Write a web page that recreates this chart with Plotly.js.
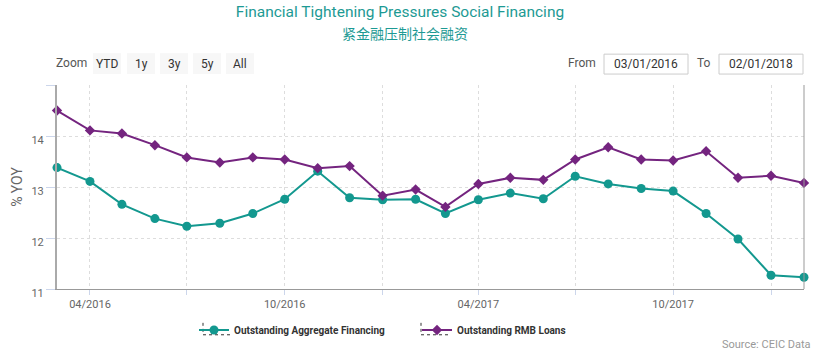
<!DOCTYPE html>
<html>
<head>
<meta charset="utf-8">
<script src="https://cdn.plot.ly/plotly-3.0.1.min.js"></script>
<style>
html,body{margin:0;padding:0;background:#fff;}
#chart{width:820px;height:355px;}
</style>
</head>
<body>
<div id="chart"></div>
<script>
// ---- data ----
const months = ['2016-03-01','2016-04-01','2016-05-01','2016-06-01','2016-07-01','2016-08-01','2016-09-01','2016-10-01','2016-11-01','2016-12-01','2017-01-01','2017-02-01','2017-03-01','2017-04-01','2017-05-01','2017-06-01','2017-07-01','2017-08-01','2017-09-01','2017-10-01','2017-11-01','2017-12-01','2018-01-01','2018-02-01'];
const aggregateFinancing = [13.38,13.11,12.66,12.38,12.23,12.29,12.48,12.76,13.31,12.79,12.75,12.76,12.48,12.75,12.88,12.77,13.21,13.06,12.97,12.92,12.48,11.98,11.27,11.23];
const rmbLoans = [14.50,14.11,14.05,13.82,13.58,13.48,13.58,13.54,13.37,13.41,12.83,12.95,12.61,13.06,13.18,13.14,13.54,13.78,13.54,13.52,13.70,13.18,13.22,13.08];
const seriesNames = ['Outstanding Aggregate Financing','Outstanding RMB Loans'];
const tickVals = ['2016-04-01','2016-07-01','2016-10-01','2017-01-01','2017-04-01','2017-07-01','2017-10-01','2018-01-01'];
const tickText = ['04/2016','','10/2016','','04/2017','','10/2017',''];
const yTicks = [11,12,13,14,15];
const yTickText = ['11','12','13','14',''];
const zoomButtons = ['YTD','1y','3y','5y','All'];
const fromDate = '03/01/2016';
const toDate = '02/01/2018';

// ---- layout helpers (pixel -> paper) ----
const L = 57, R = 804, T = 85, B = 290, W = 820, H = 355;
const px = x => (x - L) / (R - L);
const py = y => (B - y) / (B - T);

const teal = '#13988f';
const purple = '#74247f';
const titleColor = '#1d9a94';

const traces = [
  {x: months, y: aggregateFinancing, name: seriesNames[0], type: 'scatter', mode: 'lines+markers',
   line: {color: teal, width: 2}, marker: {symbol: 'circle', size: 9, color: teal}, cliponaxis: false},
  {x: months, y: rmbLoans, name: seriesNames[1], type: 'scatter', mode: 'lines+markers',
   line: {color: purple, width: 2}, marker: {symbol: 'diamond', size: 8, color: purple}, cliponaxis: false}
];

const shapes = [];
const annotations = [];

// Chinese subtitle
annotations.push({text: '紧金融压制社会融资', xref: 'paper', yref: 'paper', x: px(405), y: py(33),
  xanchor: 'center', yanchor: 'middle', showarrow: false,
  font: {family: '"Noto Sans CJK SC", sans-serif', size: 14, color: titleColor}});

// Zoom label + buttons
annotations.push({text: 'Zoom', xref: 'paper', yref: 'paper', x: px(89), y: py(63), xanchor: 'right', yanchor: 'middle',
  showarrow: false, font: {family: 'Roboto, sans-serif', size: 12, color: '#555'}});
const btnX = [93, 127, 160, 193, 226];
zoomButtons.forEach((b, i) => {
  shapes.push({type: 'rect', xref: 'paper', yref: 'paper', x0: px(btnX[i]), x1: px(btnX[i] + 28),
    y0: py(53), y1: py(74), fillcolor: '#f7f7f7', line: {width: 0}, layer: 'below'});
  annotations.push({text: b, xref: 'paper', yref: 'paper', x: px(btnX[i] + 14), y: py(63.5), xanchor: 'center', yanchor: 'middle',
    showarrow: false, font: {family: 'Roboto, sans-serif', size: 12, color: '#333'}});
});

// From / To inputs
annotations.push({text: 'From', xref: 'paper', yref: 'paper', x: px(598), y: py(63), xanchor: 'right', yanchor: 'middle',
  showarrow: false, font: {family: 'Roboto, sans-serif', size: 12, color: '#555'}});
annotations.push({text: 'To', xref: 'paper', yref: 'paper', x: px(713), y: py(63), xanchor: 'right', yanchor: 'middle',
  showarrow: false, font: {family: 'Roboto, sans-serif', size: 12, color: '#555'}});
[[604, 688, fromDate], [719, 803, toDate]].forEach(([a, b, t]) => {
  shapes.push({type: 'rect', xref: 'paper', yref: 'paper', x0: px(a), x1: px(b), y0: py(54), y1: py(74),
    fillcolor: '#ffffff', line: {color: '#cccccc', width: 1}});
  annotations.push({text: t, xref: 'paper', yref: 'paper', x: px((a + b) / 2), y: py(64), xanchor: 'center', yanchor: 'middle',
    showarrow: false, font: {family: 'Roboto, sans-serif', size: 12, color: '#333'}});
});

// Right border of plot
shapes.push({type: 'line', xref: 'paper', yref: 'paper', x0: 1, x1: 1, y0: 0, y1: 1, line: {color: '#999', width: 1}});

// Dotted focus boxes around legend symbols
[[203, 233], [421, 451]].forEach(([a, b]) => {
  shapes.push({type: 'line', xref: 'paper', yref: 'paper', x0: px(a), x1: px(a), y0: py(324), y1: py(336),
    line: {color: '#333', width: 1, dash: 'dot'}});
  shapes.push({type: 'line', xref: 'paper', yref: 'paper', x0: px(a), x1: px(b), y0: py(336), y1: py(336),
    line: {color: '#333', width: 1, dash: 'dot'}});
});

// Source
annotations.push({text: 'Source: CEIC Data', xref: 'paper', yref: 'paper', x: px(813), y: py(346), xanchor: 'right', yanchor: 'middle',
  showarrow: false, font: {family: 'Roboto, sans-serif', size: 11, color: '#999'}});

const layout = {
  width: W, height: H,
  margin: {l: L, r: W - R, t: T, b: H - B},
  paper_bgcolor: '#fff', plot_bgcolor: '#fff',
  title: {text: 'Financial Tightening Pressures Social Financing', xref: 'container', yref: 'container',
    x: 400 / W, y: 1 - 12 / H, xanchor: 'center', yanchor: 'middle',
    font: {family: 'Roboto, sans-serif', size: 15.5, color: titleColor}},
  xaxis: {type: 'date', range: [months[0], months[months.length - 1]], tickmode: 'array',
    tickvals: tickVals, ticktext: tickText, showgrid: true, gridcolor: '#dddddd', griddash: 'dot', gridwidth: 1,
    showline: true, linecolor: '#999', linewidth: 1, ticks: 'outside', ticklen: 5, tickcolor: '#ccd6eb',
    tickfont: {family: 'Roboto, sans-serif', size: 11, color: '#666'}, zeroline: false, fixedrange: true},
  yaxis: {range: [11, 15], tickmode: 'array', tickvals: yTicks, ticktext: yTickText,
    showgrid: true, gridcolor: '#dddddd', griddash: 'dot', gridwidth: 1,
    showline: true, linecolor: '#aaa', linewidth: 2, ticks: 'outside', ticklen: 9, tickcolor: '#ccd6eb',
    ticklabelshift: 4,
    tickfont: {family: 'Roboto, sans-serif', size: 11, color: '#666'}, zeroline: false,
    title: {text: '% YOY', standoff: 6, font: {family: 'Roboto, sans-serif', size: 14, color: '#666'}}},
  showlegend: true,
  legend: {orientation: 'h', x: px(194), y: py(330), xanchor: 'left', yanchor: 'middle', xref: 'paper', yref: 'paper',
    entrywidth: 178, entrywidthmode: 'pixels', bgcolor: 'rgba(0,0,0,0)',
    font: {family: 'Roboto, sans-serif', size: 10, color: '#333', weight: 'bold'}},
  shapes: shapes, annotations: annotations
};

Plotly.newPlot('chart', traces, layout, {displayModeBar: false, staticPlot: true});
</script>
</body>
</html>
